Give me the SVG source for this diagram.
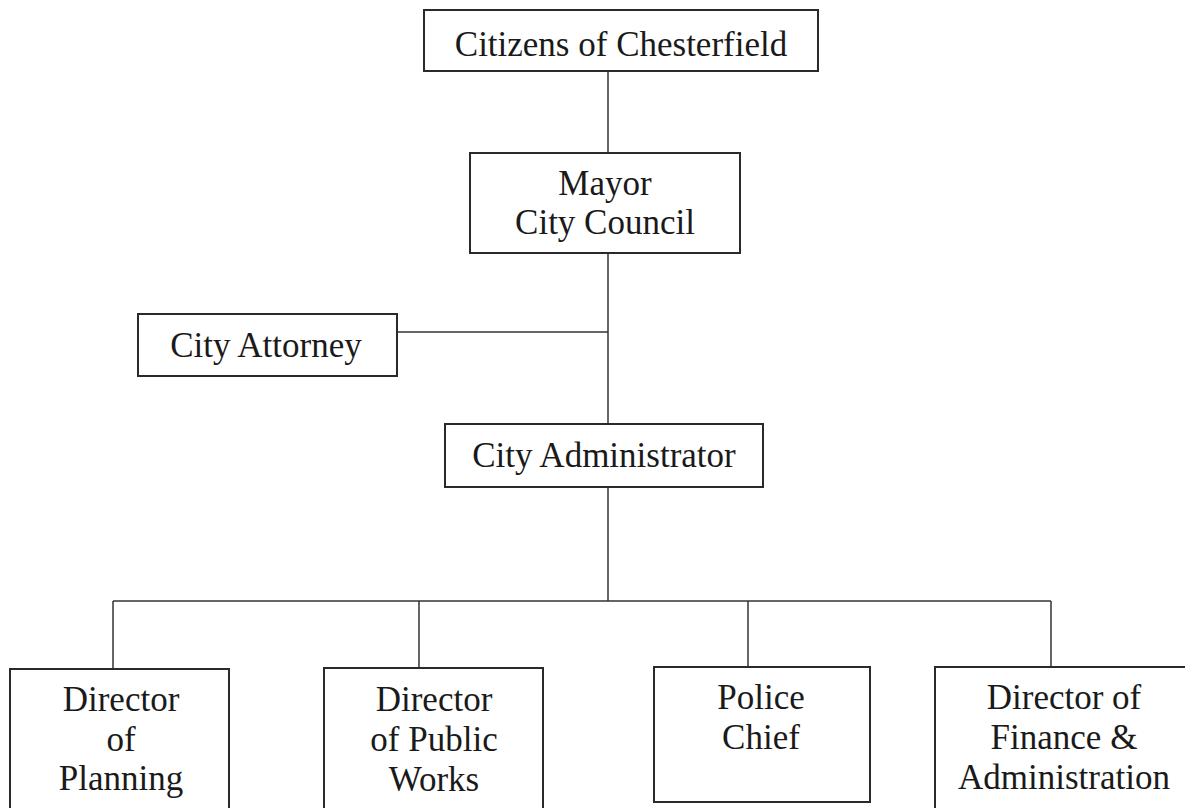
<svg xmlns="http://www.w3.org/2000/svg" width="1185" height="808" viewBox="0 0 1185 808">
<style>
.box{fill:#fff;stroke:#2a2a2a;stroke-width:2}
.ln{stroke:#333;stroke-width:1.5;fill:none}
text{font-family:"Liberation Serif","Times New Roman",serif;font-size:35px;fill:#1a1a1a;text-anchor:middle}
</style>
<rect width="1185" height="808" fill="#fff"/>
<g id="connectors">
<line class="ln" x1="608" y1="71" x2="608" y2="153"/>
<line class="ln" x1="608" y1="253" x2="608" y2="424"/>
<line class="ln" x1="397" y1="332" x2="608" y2="332"/>
<line class="ln" x1="608" y1="487" x2="608" y2="601"/>
<line class="ln" x1="113" y1="601" x2="1051" y2="601"/>
<line class="ln" x1="113" y1="601" x2="113" y2="669"/>
<line class="ln" x1="419" y1="601" x2="419" y2="668"/>
<line class="ln" x1="748" y1="601" x2="748" y2="667"/>
<line class="ln" x1="1051" y1="601" x2="1051" y2="667"/>
</g>
<g id="citizens">
<rect class="box" x="424" y="10" width="394" height="61"/>
<text x="621" y="56">Citizens of Chesterfield</text>
</g>
<g id="mayor">
<rect class="box" x="470" y="153" width="270" height="100"/>
<text x="605" y="195">Mayor</text>
<text x="605" y="234">City Council</text>
</g>
<g id="attorney">
<rect class="box" x="138" y="314" width="259" height="62"/>
<text x="266" y="357">City Attorney</text>
</g>
<g id="administrator">
<rect class="box" x="445" y="424" width="318" height="63"/>
<text x="604" y="467">City Administrator</text>
</g>
<g id="planning">
<rect class="box" x="10" y="669" width="219" height="150"/>
<text x="121" y="711">Director</text>
<text x="121" y="751">of</text>
<text x="121" y="790">Planning</text>
</g>
<g id="publicworks">
<rect class="box" x="324" y="668" width="219" height="150"/>
<text x="434" y="711">Director</text>
<text x="434" y="751">of Public</text>
<text x="434" y="791">Works</text>
</g>
<g id="police">
<rect class="box" x="654" y="667" width="216" height="135"/>
<text x="761" y="709">Police</text>
<text x="761" y="749">Chief</text>
</g>
<g id="finance">
<rect class="box" x="935" y="667" width="260" height="150"/>
<text x="1064" y="709">Director of</text>
<text x="1064" y="749">Finance &amp;</text>
<text x="1064" y="789">Administration</text>
</g>
</svg>
